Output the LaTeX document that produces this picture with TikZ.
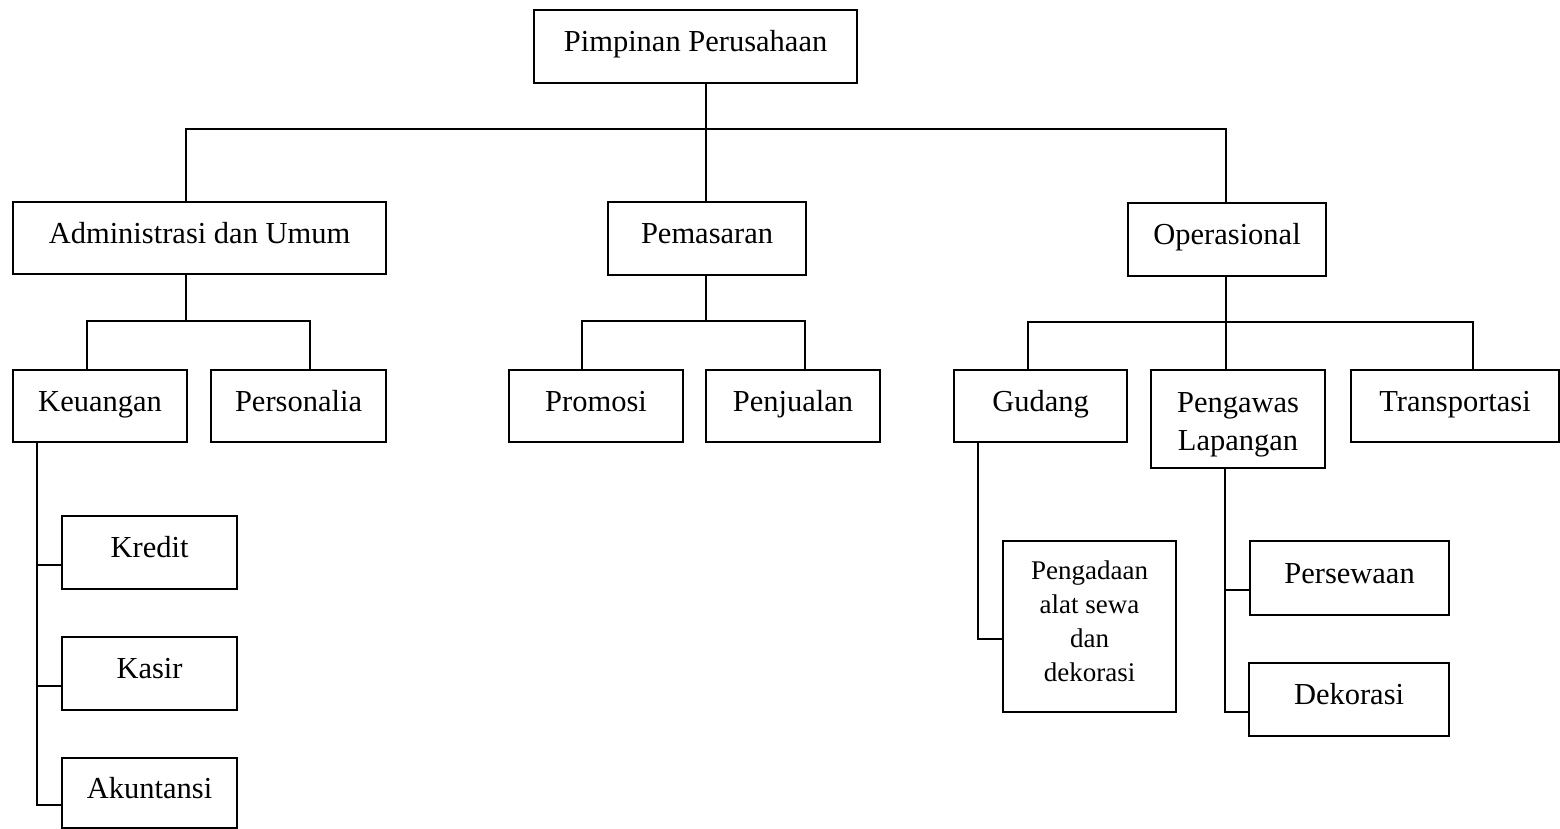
\documentclass[tikz,border=0pt]{standalone}
\usepackage{fontspec}
\setmainfont{Liberation Serif}
% centred multi-line label whose first baseline sits #1 above the node centre
\newcommand{\stacklines}[2]{\raisebox{#1}[0pt][0pt]{\begin{tabular}[t]{@{}c@{}}#2\end{tabular}}}
\begin{document}
\begin{tikzpicture}[x=1pt,y=-1pt,
  unit/.style={draw, line width=2.1pt, inner sep=0pt, anchor=north west,
    font=\fontsize{30.5}{38}\selectfont, text height=21pt, text depth=11pt},
  unitmulti/.style={draw, line width=2.1pt, inner sep=0pt, anchor=north west},
  link/.style={line width=2.1pt}]
\useasboundingbox (0,0) rectangle (1560,828);

% top level
\node[unit, minimum width=323pt, minimum height=73pt] (top) at (533,9) {Pimpinan Perusahaan};

% second level
\node[unit, minimum width=373pt, minimum height=72pt] (adm) at (12,201) {Administrasi dan Umum};
\node[unit, minimum width=198pt, minimum height=73pt] (pem) at (607,201) {Pemasaran};
\node[unit, minimum width=198pt, minimum height=73pt] (ops) at (1127,202) {Operasional};

% third level
\node[unit, minimum width=174pt, minimum height=72pt] (keu) at (12,369) {Keuangan};
\node[unit, minimum width=175pt, minimum height=72pt] (per) at (210,369) {Personalia};
\node[unit, minimum width=174pt, minimum height=72pt] (pro) at (508,369) {Promosi};
\node[unit, minimum width=174pt, minimum height=72pt] (pen) at (705,369) {Penjualan};
\node[unit, minimum width=173pt, minimum height=72pt] (gud) at (953,369) {Gudang};
\node[unitmulti, minimum width=174pt, minimum height=98pt,
  font=\fontsize{30.5}{38}\selectfont] (pga) at (1150,369)
  {\stacklines{7pt}{Pengawas\\Lapangan}};
\node[unit, minimum width=208pt, minimum height=72pt] (tra) at (1350,369) {Transportasi};

% fourth level
\node[unit, minimum width=175pt, minimum height=73pt] (kre) at (61,515) {Kredit};
\node[unit, minimum width=175pt, minimum height=73pt] (kas) at (61,636) {Kasir};
\node[unit, minimum width=175pt, minimum height=70pt] (aku) at (61,757) {Akuntansi};
\node[unitmulti, minimum width=173pt, minimum height=171pt,
  font=\fontsize{27}{34}\selectfont] (pgd) at (1002,540)
  {\stacklines{47.5pt}{Pengadaan\\alat sewa\\dan\\dekorasi}};
\node[unit, minimum width=199pt, minimum height=74pt] (sew) at (1249,540) {Persewaan};
\node[unit, minimum width=200pt, minimum height=73pt] (dek) at (1248,662) {Dekorasi};

% bus below the top box
\coordinate (j0) at (706,129);
\coordinate (j0l) at (186,129);
\coordinate (j0r) at (1226,129);
\draw[link] (j0 |- top.south) -- (j0);
\draw[link] (j0l |- adm.north) -- (j0l) -- (j0r) -- (j0r |- ops.north);
\draw[link] (j0) -- (j0 |- pem.north);

% administrasi group
\coordinate (a1) at (186,321);
\coordinate (a1l) at (87,321);
\coordinate (a1r) at (310,321);
\draw[link] (a1 |- adm.south) -- (a1);
\draw[link] (a1l |- keu.north) -- (a1l) -- (a1r) -- (a1r |- per.north);

% pemasaran group
\coordinate (p1) at (706,321);
\coordinate (p1l) at (582,321);
\coordinate (p1r) at (805,321);
\draw[link] (p1 |- pem.south) -- (p1);
\draw[link] (p1l |- pro.north) -- (p1l) -- (p1r) -- (p1r |- pen.north);

% operasional group
\coordinate (o1) at (1226,322);
\coordinate (o1l) at (1028,322);
\coordinate (o1r) at (1473,322);
\draw[link] (o1 |- ops.south) -- (o1) -- (o1 |- pga.north);
\draw[link] (o1l |- gud.north) -- (o1l) -- (o1r) -- (o1r |- tra.north);

% keuangan spine
\coordinate (ks) at (37,0);
\path ([yshift=-12pt]kre.west) coordinate (kre-in)
      ([yshift=-12pt]kas.west) coordinate (kas-in)
      ([yshift=-12pt]aku.west) coordinate (aku-in);
\draw[link] (keu.south -| ks) -- (aku-in -| ks) -- (aku-in);
\draw[link] (kre-in -| ks) -- (kre-in);
\draw[link] (kas-in -| ks) -- (kas-in);

% gudang spine
\coordinate (gs) at (978,0);
\path ([yshift=-12pt]pgd.west) coordinate (pgd-in);
\draw[link] (gud.south -| gs) -- (pgd-in -| gs) -- (pgd-in);

% pengawas spine
\coordinate (ps) at (1225,0);
\path ([yshift=-12pt]sew.west) coordinate (sew-in)
      ([yshift=-12pt]dek.west) coordinate (dek-in);
\draw[link] (pga.south -| ps) -- (dek-in -| ps) -- (dek-in);
\draw[link] (sew-in -| ps) -- (sew-in);
\end{tikzpicture}
\end{document}
